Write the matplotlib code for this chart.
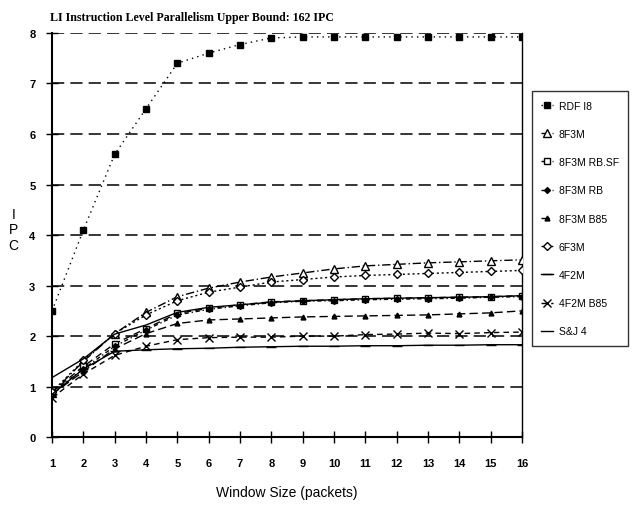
import matplotlib
matplotlib.use("Agg")
import matplotlib.pyplot as plt

window = list(range(1, 17))
rdf_i8 = [2.5, 4.1, 5.6, 6.5, 7.4, 7.6, 7.77, 7.9, 7.92, 7.92, 7.92, 7.92, 7.92, 7.92, 7.92, 7.92]
f8m3 = [0.88, 1.5, 2.05, 2.47, 2.78, 2.95, 3.07, 3.17, 3.25, 3.33, 3.39, 3.42, 3.45, 3.47, 3.49, 3.51]
f8m3_rbsf = [0.9, 1.4, 1.85, 2.15, 2.45, 2.55, 2.62, 2.68, 2.7, 2.72, 2.74, 2.75, 2.76, 2.77, 2.78, 2.8]
f8m3_rb = [0.88, 1.35, 1.8, 2.12, 2.42, 2.53, 2.6, 2.66, 2.69, 2.7, 2.72, 2.73, 2.74, 2.75, 2.77, 2.78]
f8m3_b85 = [0.85, 1.3, 1.75, 2.05, 2.25, 2.32, 2.34, 2.36, 2.38, 2.39, 2.4, 2.41, 2.42, 2.44, 2.46, 2.5]
f6m3 = [0.9, 1.52, 2.05, 2.42, 2.7, 2.87, 2.97, 3.07, 3.12, 3.17, 3.2, 3.22, 3.24, 3.26, 3.28, 3.3]
f4m2 = [0.85, 1.35, 1.7, 1.73, 1.75, 1.76, 1.78, 1.79, 1.8, 1.8, 1.81, 1.81, 1.82, 1.82, 1.83, 1.83]
f4m2_b85 = [0.78, 1.25, 1.62, 1.8, 1.93, 1.97, 1.98, 1.98, 2.0, 2.0, 2.03, 2.04, 2.06, 2.05, 2.07, 2.08]
sj4 = [1.18, 1.55, 2.04, 2.22, 2.47, 2.57, 2.62, 2.67, 2.7, 2.72, 2.74, 2.75, 2.76, 2.77, 2.78, 2.8]

series = [
    ("RDF I8", rdf_i8, dict(linestyle=(0, (1, 3)), marker="s", ms=4.5, mfc="black")),
    ("8F3M", f8m3, dict(linestyle=(0, (6, 2, 1, 2)), marker="^", ms=5.5, mfc="white")),
    ("8F3M RB.SF", f8m3_rbsf, dict(linestyle=(0, (5, 3)), marker="s", ms=5, mfc="white")),
    ("8F3M RB", f8m3_rb, dict(linestyle=(0, (3, 2, 1, 2)), marker="D", ms=3, mfc="black")),
    ("8F3M B85", f8m3_b85, dict(linestyle=(0, (6, 3)), marker="^", ms=3.5, mfc="black")),
    ("6F3M", f6m3, dict(linestyle=(0, (1.5, 2)), marker="D", ms=4.5, mfc="white")),
    ("4F2M", f4m2, dict(linestyle="-", marker="_", ms=7, mfc="black")),
    ("4F2M B85", f4m2_b85, dict(linestyle=(0, (4, 3)), marker="x", ms=6, mfc="black")),
    ("S&J 4", sj4, dict(linestyle="-", marker=None, ms=0, mfc="black")),
]

fig = plt.figure(figsize=(6.35, 5.06), dpi=100)
ax = fig.add_axes([0.082, 0.134, 0.74, 0.799])

for yv in range(1, 9):
    ax.axhline(yv, color="black", lw=1.1, linestyle=(0, (8, 4)), zorder=1)

for name, vals, st in series:
    ax.plot(window, vals, color="black", lw=1.0, linestyle=st["linestyle"],
            marker=st["marker"], markersize=st["ms"], markerfacecolor=st["mfc"],
            markeredgecolor="black", markeredgewidth=1.0, label=name, zorder=3)

ax.set_xlim(1, 16)
ax.set_ylim(0, 8)
ax.set_xticks(window)
ax.set_yticks(range(0, 9))
ax.tick_params(direction="inout", length=8, width=1, labelsize=8)
ax.tick_params(axis="x", pad=11)
ax.tick_params(axis="y", pad=8)
for lab in ax.get_xticklabels() + ax.get_yticklabels():
    lab.set_fontfamily("Liberation Sans")
    lab.set_fontweight("bold")
for sp in ax.spines.values():
    sp.set_color("black")
    sp.set_linewidth(1.0)
ax.spines["left"].set_linewidth(1.5)
ax.spines["bottom"].set_linewidth(1.5)
ax.spines["top"].set_visible(False)

ax.set_xlabel("Window Size (packets)", fontsize=10, family="Liberation Sans", labelpad=12)
fig.text(0.021, 0.545, "I\nP\nC", fontsize=10, family="Liberation Sans",
         ha="center", va="center", multialignment="center", linespacing=1.15)

fig.text(0.079, 0.965, "LI Instruction Level Parallelism Upper Bound: 162 IPC",
         fontsize=8.6, family="Liberation Serif", fontweight="bold", ha="left", va="center")

leg = fig.legend(loc="upper left", bbox_to_anchor=(0.829, 0.828), frameon=True,
                 fancybox=False, edgecolor="black", labelspacing=1.75,
                 handlelength=1.2, handletextpad=0.5, borderpad=0.9,
                 prop={"family": "Liberation Sans", "size": 7.5})
leg.get_frame().set_linewidth(1.0)

fig.savefig("out.png", dpi=100, facecolor="white")
